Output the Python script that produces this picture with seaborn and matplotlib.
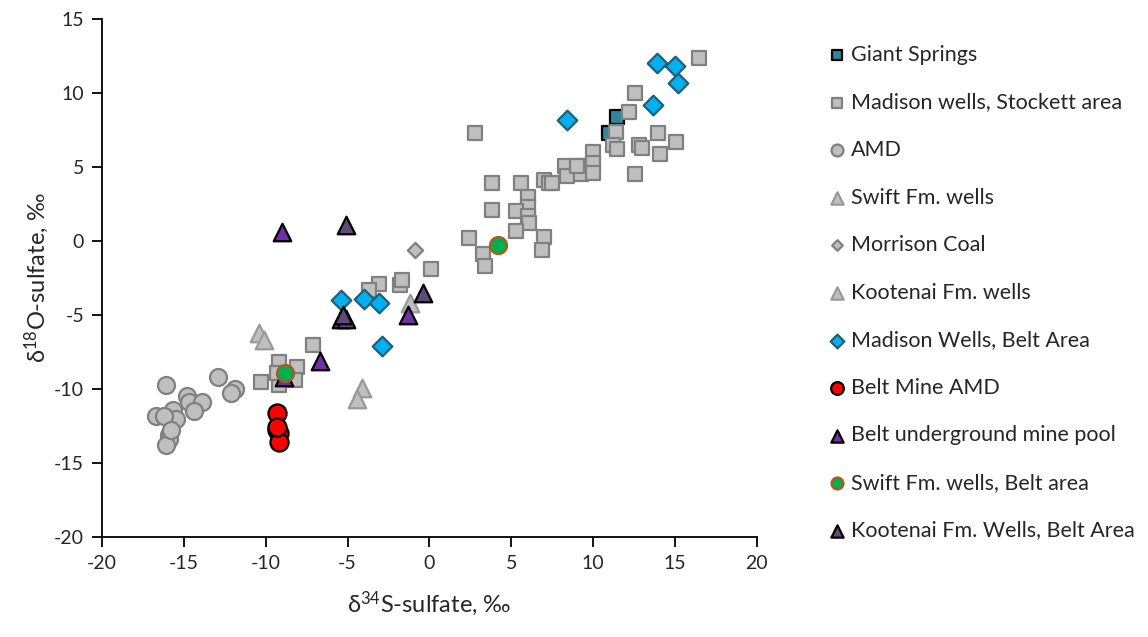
import matplotlib
matplotlib.use("Agg")
import matplotlib.pyplot as plt
import seaborn as sns
import pandas as pd

# delta34S / delta18O of sulfate
giant_x = [11.5, 11.0]
giant_y = [8.4, 7.3]

stockett_x = [2.8, 16.5, 12.6, 12.2, 11.4, 11.2, 11.5, 12.8, 13.0, 14.0, 15.1, 14.1, 12.6,
              10.0, 9.3, 8.3, 10.0, 8.4, 9.3, 10.0, 7.0, 7.3, 7.5, 9.0,
              3.8, 5.6, 3.8, 6.0, 6.0, 5.3, 6.0, 6.1, 5.3, 7.0, 6.9, 2.4, 3.3, 3.4,
              0.1, -3.1, -1.8, -1.7, -3.7, -7.1, -9.2, -8.1, -10.3, -9.2, -8.2, -9.3]
stockett_y = [7.3, 12.4, 10.0, 8.7, 7.4, 6.5, 6.2, 6.5, 6.3, 7.3, 6.7, 5.9, 4.5,
              6.0, 5.1, 5.1, 5.3, 4.4, 4.5, 4.6, 4.1, 3.9, 3.9, 5.1,
              3.9, 3.9, 2.1, 3.0, 2.3, 2.0, 1.7, 1.2, 0.7, 0.3, -0.6, 0.2, -0.9, -1.7,
              -1.9, -2.9, -3.0, -2.6, -3.3, -7.0, -8.2, -8.5, -9.5, -9.7, -9.4, -8.9]

amd_x = [-16.1, -12.9, -11.9, -12.1, -14.8, -14.7, -13.9, -14.4, -15.7, -15.5, -16.7, -16.2,
         -15.9, -15.9, -16.1, -15.8]
amd_y = [-9.7, -9.2, -10.0, -10.3, -10.5, -10.9, -10.9, -11.5, -11.4, -12.0, -11.8, -11.8,
         -13.1, -13.4, -13.8, -12.8]

swift_x = [-10.4, -10.1, -4.1, -4.4]
swift_y = [-6.2, -6.7, -9.9, -10.7]

morrison_x = [-0.9]
morrison_y = [-0.6]

kootenai_x = [-1.2]
kootenai_y = [-4.2]

madison_belt_x = [-5.4, -4.0, -3.1, -2.9, 8.4, 13.7, 13.9, 15.0, 15.2]
madison_belt_y = [-4.0, -3.9, -4.2, -7.1, 8.2, 9.2, 12.0, 11.8, 10.7]

belt_amd_x = [-9.3, -9.3, -9.2, -9.2, -9.3]
belt_amd_y = [-11.6, -12.8, -13.0, -13.6, -12.6]

mine_pool_x = [-9.0, -1.3, -6.7, -8.9]
mine_pool_y = [0.6, -5.0, -8.1, -9.2]

swift_belt_x = [-8.8, 4.2]
swift_belt_y = [-8.9, -0.3]

kootenai_belt_x = [-5.1, -5.4, -5.1, -5.3, -0.4]
kootenai_belt_y = [1.1, -5.3, -5.3, -5.0, -3.5]

groups = [
    ("Giant Springs", giant_x, giant_y, "s", "#31859C", "black", 105),
    ("Madison wells, Stockett area", stockett_x, stockett_y, "s", "#BFBFBF", "#808080", 105),
    ("AMD", amd_x, amd_y, "o", "#BFBFBF", "#808080", 150),
    ("Swift Fm. wells", swift_x, swift_y, "^", "#BFBFBF", "#999999", 160),
    ("Morrison Coal", morrison_x, morrison_y, "D", "#BFBFBF", "#808080", 60),
    ("Kootenai Fm. wells", kootenai_x, kootenai_y, "^", "#BFBFBF", "#999999", 160),
    ("Madison Wells, Belt Area", madison_belt_x, madison_belt_y, "D", "#00B0F0", "#1F5F78", 100),
    ("Belt Mine AMD", belt_amd_x, belt_amd_y, "o", "#FF0000", "black", 170),
    ("Belt underground mine pool", mine_pool_x, mine_pool_y, "^", "#7030A0", "black", 160),
    ("Swift Fm. wells, Belt area", swift_belt_x, swift_belt_y, "o", "#00B050", "#B5561A", 150),
    ("Kootenai Fm. Wells, Belt Area", kootenai_belt_x, kootenai_belt_y, "^", "#604A7B", "black", 160),
]

sns.set_style("white")
plt.rcParams["font.family"] = ["Lato", "DejaVu Sans"]
plt.rcParams["axes.unicode_minus"] = False
plt.rcParams["mathtext.fontset"] = "custom"
plt.rcParams["mathtext.rm"] = "Lato"

fig = plt.figure(figsize=(11.48, 6.37), dpi=100)
ax = fig.add_axes([0.089, 0.157, 0.570, 0.813])

for name, xs, ys, mk, fc, ec, sz in groups:
    df = pd.DataFrame({"x": xs, "y": ys})
    sns.scatterplot(data=df, x="x", y="y", marker=mk, color=fc, edgecolor=ec,
                    linewidth=1.6, s=sz, label=name, ax=ax, clip_on=False)

ax.set_xlim(-20, 20)
ax.set_ylim(-20, 15)
ax.set_xticks(range(-20, 21, 5))
ax.set_yticks(range(-20, 16, 5))
for side in ["top", "right"]:
    ax.spines[side].set_visible(False)
for side in ["left", "bottom"]:
    ax.spines[side].set_color("black")
    ax.spines[side].set_linewidth(1.3)
ax.tick_params(axis="both", direction="out", length=7, width=1.3, color="black",
               labelsize=14, pad=6, left=True, bottom=True)

ax.set_xlabel(r"δ$\mathregular{^{34}}$S-sulfate, ‰", fontsize=17)
ax.set_ylabel(r"δ$\mathregular{^{18}}$O-sulfate, ‰", fontsize=17)
ax.xaxis.set_label_coords(0.5, -0.1)
ax.yaxis.set_label_coords(-0.078, 0.5)

handles, labels = ax.get_legend_handles_labels()
ax.legend_.remove()
fig.legend(handles, labels, loc="upper left", bbox_to_anchor=(0.703, 0.96),
           frameon=False, fontsize=15.5, labelspacing=1.28, handletextpad=0.15,
           markerscale=0.7, handlelength=1.0)

fig.savefig("out.png", dpi=100)
